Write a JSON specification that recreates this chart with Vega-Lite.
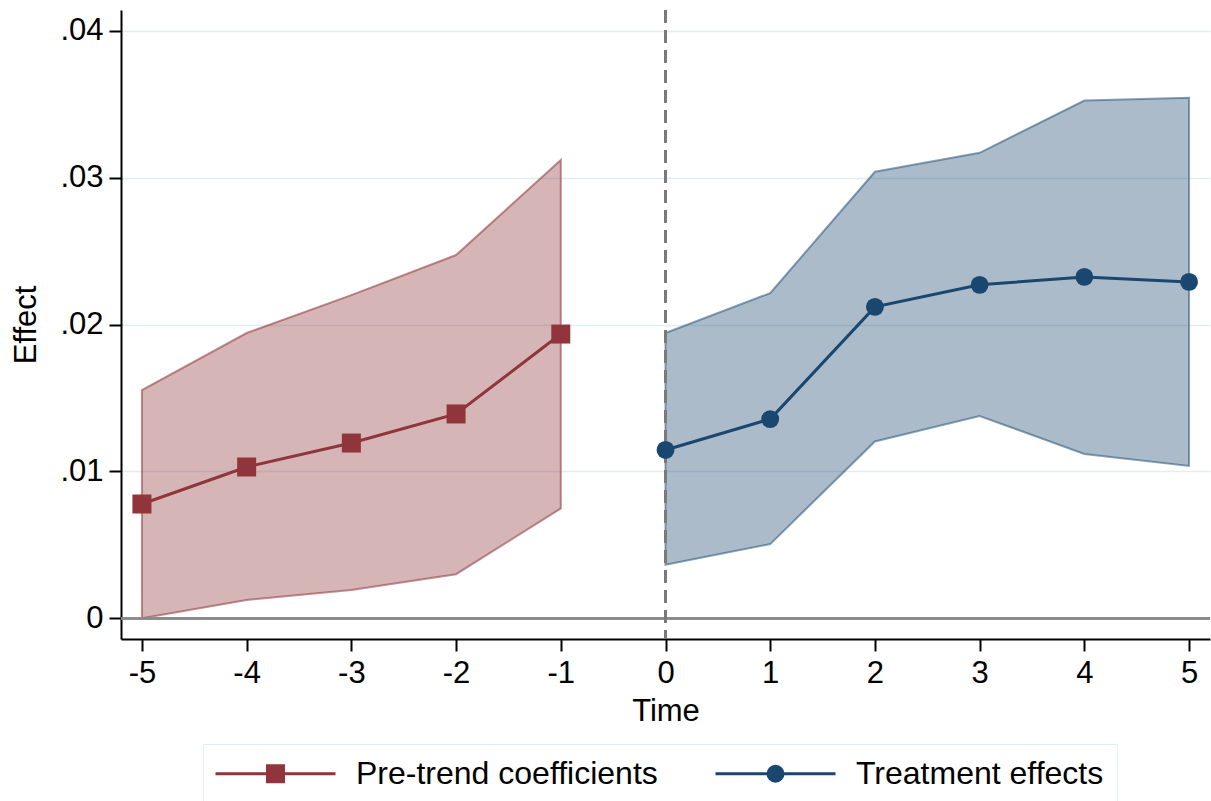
{
  "$schema": "https://vega.github.io/schema/vega-lite/v6.json",
  "autosize": {"type": "none"},
  "width": 1089,
  "height": 629,
  "padding": {"left": 121, "top": 10, "right": 1, "bottom": 162},
  "background": "white",
  "config": {
    "view": {"stroke": null},
    "font": "Liberation Sans",
    "axis": {
      "labelFont": "Liberation Sans",
      "titleFont": "Liberation Sans",
      "labelColor": "black",
      "titleColor": "black",
      "labelFontSize": 31,
      "titleFontSize": 31,
      "titleFontWeight": "normal",
      "domainColor": "black",
      "domainWidth": 2,
      "tickColor": "black",
      "tickWidth": 2,
      "tickSize": 12,
      "gridColor": "#e1eef0",
      "gridWidth": 1.5
    }
  },
  "datasets": {
    "coef": [
      {"series": "Pre-trend coefficients", "t": -5, "est": 0.00778, "lo": 0.0000, "hi": 0.01554},
      {"series": "Pre-trend coefficients", "t": -4, "est": 0.0103, "lo": 0.00125, "hi": 0.01942},
      {"series": "Pre-trend coefficients", "t": -3, "est": 0.01193, "lo": 0.00193, "hi": 0.0220},
      {"series": "Pre-trend coefficients", "t": -2, "est": 0.01391, "lo": 0.0030, "hi": 0.02473},
      {"series": "Pre-trend coefficients", "t": -1, "est": 0.01935, "lo": 0.00748, "hi": 0.0312},
      {"series": "Treatment effects", "t": 0, "est": 0.01146, "lo": 0.00365, "hi": 0.01942},
      {"series": "Treatment effects", "t": 1, "est": 0.01356, "lo": 0.00505, "hi": 0.02214},
      {"series": "Treatment effects", "t": 2, "est": 0.0212, "lo": 0.01204, "hi": 0.0304},
      {"series": "Treatment effects", "t": 3, "est": 0.0227, "lo": 0.01377, "hi": 0.03169},
      {"series": "Treatment effects", "t": 4, "est": 0.02324, "lo": 0.01119, "hi": 0.03525},
      {"series": "Treatment effects", "t": 5, "est": 0.0229, "lo": 0.01037, "hi": 0.03543}
    ]
  },
  "data": {"name": "coef"},
  "encoding": {
    "x": {
      "field": "t", "type": "quantitative",
      "scale": {"domain": [-5.2, 5.2], "nice": false, "zero": false},
      "axis": {
        "title": "Time", "values": [-5, -4, -3, -2, -1, 0, 1, 2, 3, 4, 5],
        "labelExpr": "'' + datum.value", "grid": false, "labelPadding": 7,
        "titleX": 544.5, "titleY": 81, "titleBaseline": "alphabetic"
      }
    }
  },
  "layer": [
    {
      "transform": [{"filter": "datum.series == 'Pre-trend coefficients'"}],
      "mark": {"type": "area", "fill": "#90353b", "fillOpacity": 0.37, "stroke": "#90353b", "strokeOpacity": 0.55, "strokeWidth": 2},
      "encoding": {
        "y": {
          "field": "lo", "type": "quantitative",
          "scale": {"domain": [-0.00141, 0.04141], "nice": false, "zero": false},
          "axis": {
            "title": "Effect", "values": [0, 0.01, 0.02, 0.03, 0.04],
            "labelExpr": "datum.value == 0 ? '0' : replace(format(datum.value, '.2f'), '0.', '.')",
            "grid": true, "labelPadding": 6,
            "titleX": -86, "titleY": 314.5, "titleBaseline": "alphabetic", "titleAngle": -90
          }
        },
        "y2": {"field": "hi"}
      }
    },
    {
      "transform": [{"filter": "datum.series == 'Treatment effects'"}],
      "mark": {"type": "area", "fill": "#1a476f", "fillOpacity": 0.37, "stroke": "#1a476f", "strokeOpacity": 0.5, "strokeWidth": 2},
      "encoding": {
        "y": {"field": "lo", "type": "quantitative"},
        "y2": {"field": "hi"}
      }
    },
    {
      "mark": {"type": "rule", "color": "#8a8a8a", "strokeWidth": 2},
      "encoding": {"y": {"datum": 0, "type": "quantitative"}, "x": {"value": 0}, "x2": {"value": 1089}}
    },
    {
      "mark": {"type": "rule", "color": "#7a7a7a", "strokeWidth": 2.5, "strokeDash": [13, 7]},
      "encoding": {"x": {"datum": 0, "type": "quantitative"}}
    },
    {
      "transform": [{"filter": "datum.series == 'Pre-trend coefficients'"}],
      "mark": {"type": "line", "color": "#90353b", "strokeWidth": 3},
      "encoding": {"y": {"field": "est", "type": "quantitative"}}
    },
    {
      "transform": [{"filter": "datum.series == 'Treatment effects'"}],
      "mark": {"type": "line", "color": "#1a476f", "strokeWidth": 3},
      "encoding": {"y": {"field": "est", "type": "quantitative"}}
    },
    {
      "transform": [{"filter": "datum.series == 'Pre-trend coefficients'"}],
      "mark": {"type": "point", "shape": "square", "filled": true, "color": "#90353b", "size": 361, "opacity": 1},
      "encoding": {"y": {"field": "est", "type": "quantitative"}}
    },
    {
      "transform": [{"filter": "datum.series == 'Treatment effects'"}],
      "mark": {"type": "point", "shape": "circle", "filled": true, "color": "#1a476f", "size": 320, "opacity": 1},
      "encoding": {"y": {"field": "est", "type": "quantitative"}}
    },
    {
      "mark": {"type": "point", "filled": true, "opacity": 0},
      "encoding": {
        "y": {"field": "est", "type": "quantitative"},
        "fill": {
          "field": "series", "type": "nominal",
          "scale": {"domain": ["Pre-trend coefficients", "Treatment effects"], "range": ["#90353b", "#1a476f"]},
          "legend": {
            "orient": "none", "legendX": 82, "legendY": 734,
            "direction": "horizontal", "title": null,
            "padding": 13, "strokeColor": "#e4eef2", "fillColor": "white",
            "symbolSize": 900, "symbolStrokeWidth": 3,
            "symbolOffset": 43, "labelOffset": 64, "columnPadding": 51,
            "labelFont": "Liberation Sans", "labelFontSize": 32, "labelColor": "black", "labelLimit": 600,
            "encode": {
              "symbols": {
                "update": {
                  "fill": {"scale": "fill", "field": "value"},
                  "stroke": {"scale": "fill", "field": "value"},
                  "opacity": {"value": 1},
                  "fillOpacity": {"value": 1}
                }
              }
            }
          }
        },
        "stroke": {
          "field": "series", "type": "nominal",
          "scale": {"domain": ["Pre-trend coefficients", "Treatment effects"], "range": ["#90353b", "#1a476f"]}
        },
        "shape": {
          "field": "series", "type": "nominal",
          "scale": {"domain": ["Pre-trend coefficients", "Treatment effects"], "range": ["M-4,0L4,0M-0.533,-0.533L0.533,-0.533L0.533,0.533L-0.533,0.533Z", "M-4,0L4,0M0.5,0A0.5,0.5,0,1,1,-0.5,0A0.5,0.5,0,1,1,0.5,0Z"]}
        }
      }
    }
  ]
}
